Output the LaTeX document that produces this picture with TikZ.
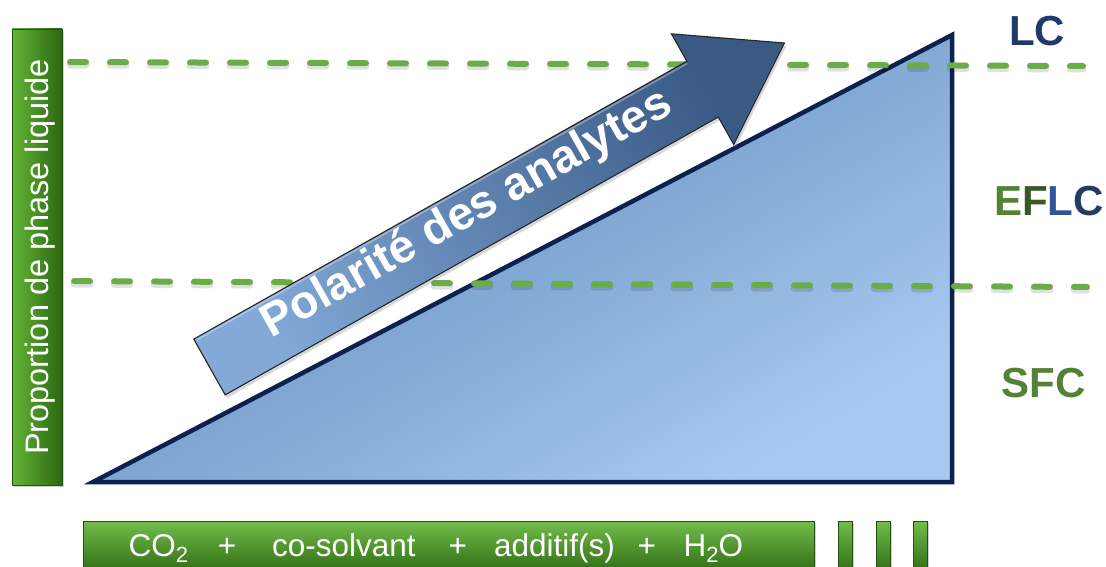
\documentclass[tikz,border=0pt]{standalone}
\usepackage{fontspec}
\setmainfont{Liberation Sans}
\usetikzlibrary{shadows}

\definecolor{barlight}{HTML}{62B537}
\definecolor{bardark}{HTML}{2C6611}
\definecolor{dashgreen}{HTML}{6AAC46}
\definecolor{navyline}{HTML}{0C214F}
\definecolor{triup}{HTML}{5A86B5}
\definecolor{trilow}{HTML}{A6C9EF}
\definecolor{arrowlight}{HTML}{82A9D7}
\definecolor{arrowdark}{HTML}{3A5A86}
\definecolor{lcnavy}{HTML}{213A6B}
\definecolor{midgreen}{HTML}{548235}
\definecolor{deepgreen}{HTML}{3A5A25}
\definecolor{lblue}{HTML}{2F5597}
\definecolor{cslate}{HTML}{253C62}

\newcommand\lowsub[1]{\raisebox{-6pt}{\fontsize{22}{22}\selectfont #1}}

\tikzset{
  greenbar/.style={draw=bardark!80!black, line width=0.6pt,
    drop shadow={shadow xshift=2pt, shadow yshift=-2pt, opacity=0.35}},
  levelline/.style={dashgreen, line width=6pt, line cap=round,
    dash pattern=on 16pt off 24pt},
  levelshadow/.style={black, opacity=0.12, line width=7pt, line cap=round,
    dash pattern=on 16pt off 24pt},
  modelabel/.style={font=\bfseries\fontsize{42}{42}\selectfont, inner sep=0pt},
  bartext/.style={text=white, inner sep=0pt},
}

\begin{document}
\begin{tikzpicture}[x=1pt,y=-1pt]
\useasboundingbox (0,0) rectangle (1106,567);
\fill[white] (0,0) rectangle (1106,567);

% triangle of increasing liquid proportion
\coordinate (tl) at (93,482);
\coordinate (tt) at (952,35);
\coordinate (tr) at (952,482);
\draw[navyline, line width=4.5pt, line join=miter,
      top color=triup, bottom color=trilow, shading angle=30]
  (tl) -- (tt) -- (tr) -- cycle;

% level separators
\coordinate (u1) at (70,62);  \coordinate (u2) at (1083,66);
\coordinate (l1) at (74,281); \coordinate (l2) at (1087,287);
\draw[levelshadow] ([yshift=-3pt]u1) -- ([yshift=-3pt]u2);
\draw[levelshadow] ([yshift=-3pt]l1) -- ([yshift=-3pt]l2);
\draw[levelline] (u1) -- (u2);
\draw[levelline] (l1) -- (l2);

% polarity arrow
\begin{scope}[shift={(209.5,367)}, rotate=29.4]
  \draw[draw=black!85, line width=1.1pt, line join=miter,
        left color=arrowlight, right color=arrowdark, shading angle=119.4,
        drop shadow={shadow xshift=2pt, shadow yshift=-3pt, opacity=0.3}]
    (0,-32) -- (566,-32) -- (566,-63.5) -- (660,0) -- (566,63.5)
    -- (566,32) -- (0,32) -- cycle;
  \draw[white, opacity=0.35, line width=1.5pt] (2,-30) -- (565,-30);
  \node[transform shape, anchor=base west, inner sep=0pt, text=white,
        font=\bfseries\fontsize{46.5}{46.5}\selectfont] (pol) at (68,6)
    {Polarité des analytes};
\end{scope}

% vertical axis bar
\node[greenbar, minimum width=50pt, minimum height=456pt, inner sep=0pt,
      left color=barlight, right color=bardark] (vbar) at (37,257) {};
\node[bartext, rotate=90, anchor=base west,
      font=\fontsize{32.5}{32.5}\selectfont] (vtext) at (48,455)
  {Proportion de phase liquide};

% mobile phase composition bar
\node[greenbar, minimum width=731pt, minimum height=50pt, inner sep=0pt,
      top color=barlight!90!white, bottom color=bardark!90!barlight,
      anchor=north west] (hbar) at (83,521) {};
\node[bartext, anchor=base west, font=\fontsize{31.5}{31.5}\selectfont]
  (htext) at (128.5,556)
  {CO\lowsub{2}\hspace{29.6pt}+\hspace{36pt}co-solvant\hspace{33pt}+\hspace{27pt}additif(s)\hspace{22.7pt}+\hspace{27.6pt}H\lowsub{2}O};
\foreach \bx/\bn in {838/s1, 876/s2, 913/s3}
  \node[greenbar, minimum width=14pt, minimum height=50pt, inner sep=0pt,
        top color=barlight!90!white, bottom color=bardark!90!barlight,
        anchor=north west] (\bn) at (\bx,521) {};

% mode labels
\node[modelabel, text=lcnavy] (lc) at (1037,31) {LC};
\node[modelabel] (eflc) at (1049,201.5)
  {\textcolor{midgreen}{E}\textcolor{deepgreen}{F}\textcolor{lblue}{L}\textcolor{cslate}{C}};
\node[modelabel, text=midgreen] (sfc) at (1043.5,383.5) {SFC};
\end{tikzpicture}
\end{document}
